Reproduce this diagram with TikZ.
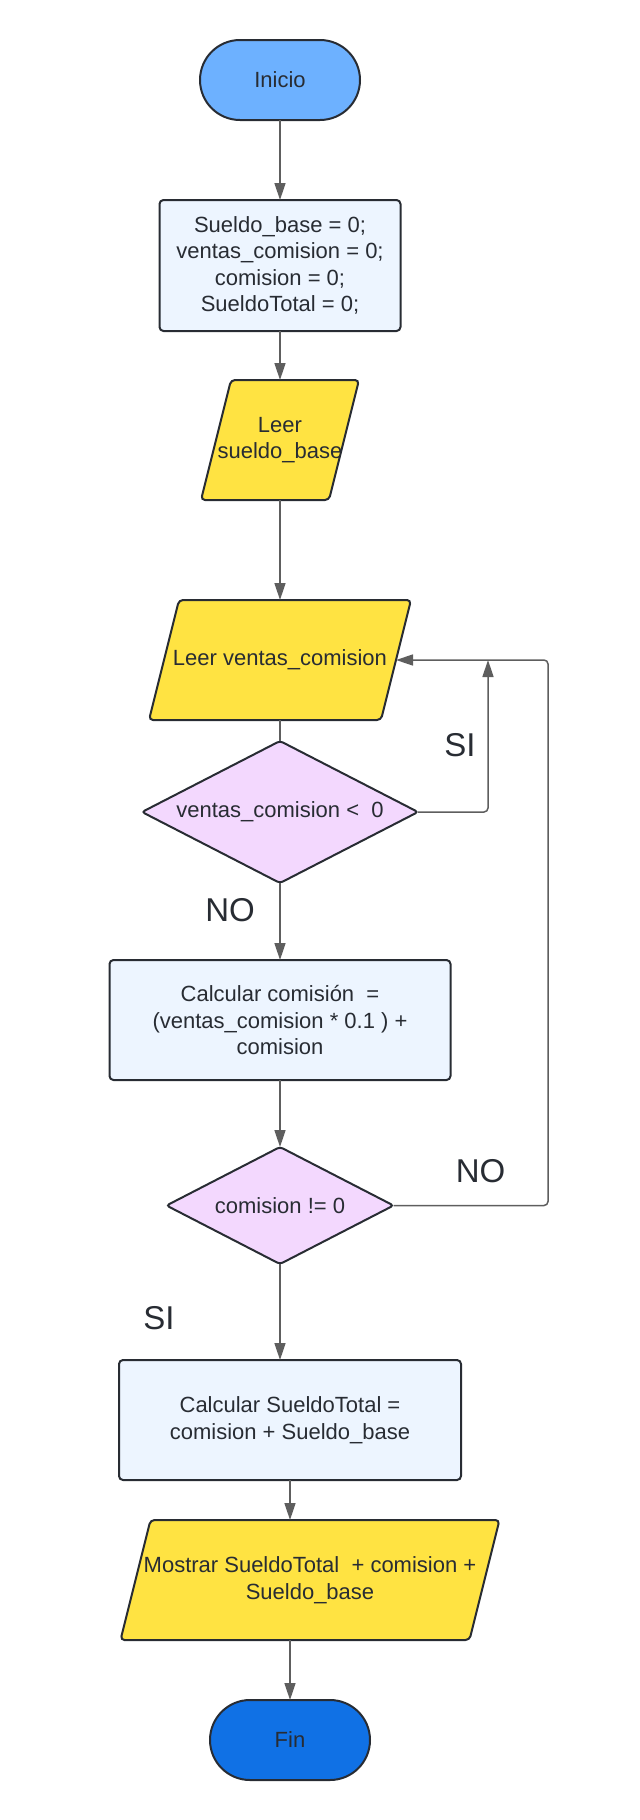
\documentclass[tikz,border=0pt]{standalone}
\usepackage{fontspec}
\setmainfont{Liberation Sans}
\usepackage{xcolor}
\usetikzlibrary{positioning,shapes.geometric,arrows.meta,backgrounds}
\definecolor{lineGray}{HTML}{5E5E5E}
\definecolor{edgeDark}{HTML}{282C33}
\definecolor{startBlue}{HTML}{6DB1FF}
\definecolor{endBlue}{HTML}{1071E5}
\definecolor{boxBlue}{HTML}{EDF5FF}
\definecolor{ioYellow}{HTML}{FFE342}
\definecolor{askPurple}{HTML}{F3D8FE}

\begin{document}
\begin{tikzpicture}[
  node distance=1cm,
  every node/.style={text=edgeDark, font=\fontsize{11}{13.2}\selectfont},
  terminal/.style={rectangle, draw=edgeDark, line width=1pt, rounded corners=20pt, minimum width=80pt, minimum height=40pt, inner sep=0pt, outer sep=0pt},
  process/.style={rectangle, draw=edgeDark, line width=1pt, fill=boxBlue, rounded corners=2pt, align=center, inner sep=0pt, outer sep=0pt},
  io/.style={rectangle, align=center, inner sep=0pt, outer sep=0pt, minimum height=60pt},
  ioshape/.style={draw=edgeDark, line width=1pt, fill=ioYellow, rounded corners=2pt},
  decision/.style={diamond, aspect=2, draw=edgeDark, line width=1pt, fill=askPurple, rounded corners=1.5pt, align=center, inner sep=0pt, outer sep=0pt},
  flow/.style={draw=lineGray, line width=0.75pt, -{Triangle[length=8.5pt,width=5.5pt]}},
  lbl/.style={font=\fontsize{16.5}{20}\selectfont, inner sep=0pt}
]
\useasboundingbox (0,0) rectangle (320pt,-910pt);

\node[terminal, fill=startBlue] (inicio) at (140pt,-40pt) {Inicio};
\node[process, minimum width=120.5pt, minimum height=65.5pt, below=40pt of inicio] (vars) {Sueldo\_base = 0;\\ventas\_comision = 0;\\comision = 0;\\SueldoTotal = 0;};
\node[io, minimum width=79pt, below=24.5pt of vars] (leerbase) {Leer\\sueldo\_base};
\node[io, minimum width=131pt, below=50pt of leerbase] (leerventas) {Leer ventas\_comision};
\node[decision, minimum width=138pt, minimum height=71pt, below=10.5pt of leerventas] (esneg) {ventas\_comision <~~0};
\node[process, minimum width=170.5pt, minimum height=60pt, below=38.5pt of esneg] (calccom) {Calcular comisión~~=\\(ventas\_comision * 0.1 ) +\\comision};
\node[decision, minimum width=113.5pt, minimum height=58.5pt, below=33.5pt of calccom] (haycom) {comision != 0};
\node[process, minimum width=171pt, minimum height=60pt, below=48pt of haycom, xshift=5pt] (calctotal) {Calcular SueldoTotal =\\comision + Sueldo\_base};
\node[io, minimum width=189.5pt, below=20pt of calctotal, xshift=10pt] (mostrar) {Mostrar SueldoTotal~~+ comision +\\Sueldo\_base};
\node[terminal, fill=endBlue, below=30pt of mostrar, xshift=-10pt] (fin) {Fin};

% paralelogramos de entrada/salida
\begin{scope}[on background layer]
  \foreach \n in {leerbase, leerventas, mostrar}
    \draw[ioshape] (\n.south west) -- ([xshift=15pt]\n.north west) -- (\n.north east) -- ([xshift=-15pt]\n.south east) -- cycle;
\end{scope}

\draw[flow] (inicio) -- (vars);
\draw[flow] (vars) -- (leerbase);
\draw[flow] (leerbase) -- (leerventas);
\draw[draw=lineGray, line width=0.75pt] (leerventas) -- (esneg);
\draw[flow] (esneg) -- (calccom);
\draw[flow] (calccom) -- (haycom);
\draw[flow] (haycom.south) -- (haycom.south |- calctotal.north);
\draw[flow] (calctotal.south) -- (calctotal.south |- mostrar.north);
\draw[flow] (fin.north |- mostrar.south) -- (fin.north);

% vuelta a leer ventas
\coordinate (ventasedge) at ([xshift=-7.5pt]leerventas.east);
\coordinate[right=46pt of ventasedge] (siup);
\coordinate[right=76pt of ventasedge] (vuelta);
\draw[flow, rounded corners=2pt] (esneg.east) -| (siup);
\draw[flow, rounded corners=2pt] (haycom.east) -| (vuelta) -- (ventasedge);

\node[lbl] (si1) at ([xshift=21pt, yshift=33.5pt]esneg.east) {SI};
\node[lbl] (no1) at ([xshift=-25pt, yshift=-13.5pt]esneg.south) {NO};
\node[lbl] (no2) at ([xshift=43.5pt, yshift=17pt]haycom.east) {NO};
\node[lbl] (si2) at ([xshift=-60.5pt, yshift=-27pt]haycom.south) {SI};
\end{tikzpicture}
\end{document}
